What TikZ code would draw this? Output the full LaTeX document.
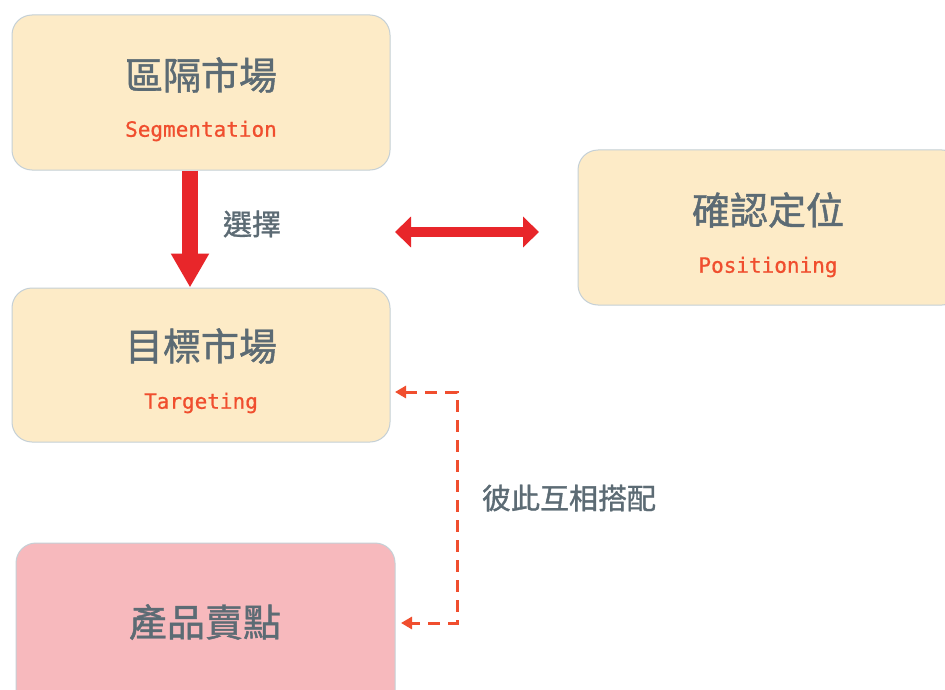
\documentclass[tikz,border=0pt]{standalone}
\usepackage{fontspec}
\setmainfont{Liberation Sans}
\newfontfamily\cjk[FakeBold=1.2]{Noto Sans CJK TC}
\newfontfamily\monof[FakeBold=0.8]{DejaVu Sans Mono}
\usetikzlibrary{arrows.meta}
\definecolor{cream}{HTML}{FDEBC7}
\definecolor{pinkbox}{HTML}{F7B9BD}
\definecolor{boxline}{HTML}{C5D0D6}
\definecolor{txtgray}{HTML}{5C6B74}
\definecolor{bigred}{HTML}{E8262A}
\definecolor{engred}{HTML}{F04E2E}
\tikzset{
  box/.style={draw=boxline, line width=1pt, rounded corners=20pt, inner sep=0pt},
  cjkbig/.style={text=txtgray, font=\cjk\fontsize{38}{42}\selectfont, inner sep=0pt},
  cjkmid/.style={text=txtgray, font=\cjk\fontsize{29}{33}\selectfont, inner sep=0pt},
  eng/.style={text=engred, font=\monof\fontsize{21}{24}\selectfont, inner sep=0pt},
  bigarrow/.style={bigred, line width=16pt, -{Triangle[width=36pt,length=34pt]}},
  duoarrow/.style={bigred, line width=10pt, {Triangle[width=30pt,length=16pt]}-{Triangle[width=30pt,length=16pt]}},
  dasharrow/.style={engred, line width=3pt, dash pattern=on 12pt off 8pt, {Triangle[width=12pt,length=11pt]}-{Triangle[width=12pt,length=11pt]}}
}
\begin{document}
\begin{tikzpicture}[x=1pt,y=-1pt]
\useasboundingbox (0,0) rectangle (945,690);
\clip (0,0) rectangle (945,690);
\fill[white] (0,0) rectangle (945,690);
% boxes
\node[box, fill=cream, minimum width=378pt, minimum height=155pt] (seg) at (201,92.5) {};
\node[box, fill=cream, minimum width=378pt, minimum height=154pt] (tgt) at (201,365) {};
\node[box, fill=cream, minimum width=384pt, minimum height=155pt] (pos) at (770,227.5) {};
\node[box, fill=pinkbox, minimum width=379pt, minimum height=170pt] (prod) at (205.5,628) {};
% texts
\node[cjkbig] (segt) at (201,75) {區隔市場};
\node[eng] (sege) at (201,131) {Segmentation};
\node[cjkbig] (tgtt) at (201,346) {目標市場};
\node[eng] (tgte) at (201,403) {Targeting};
\node[cjkbig] (post) at (768,210) {確認定位};
\node[eng] (pose) at (768,267) {Positioning};
\node[cjkbig] (prodt) at (205,622) {產品賣點};
\node[cjkmid] (sel) at (252,224) {選擇};
\node[cjkmid] (match) at (569,498) {彼此互相搭配};
% down arrow
\coordinate (ax) at (190,0);
\draw[bigarrow] (seg.south -| ax) -- (tgt.north -| ax);
% double arrow
\coordinate (dl) at (395,232);
\coordinate (dr) at (539,232);
\draw[duoarrow] (dl) -- (dr);
% dashed connector
\coordinate (t1) at (395,392);
\coordinate (c1) at (457,392);
\coordinate (c2) at (457,623);
\coordinate (p1) at (401,623);
\draw[dasharrow] (t1) -- (c1) -- (c2) -- (p1);
\end{tikzpicture}
\end{document}
